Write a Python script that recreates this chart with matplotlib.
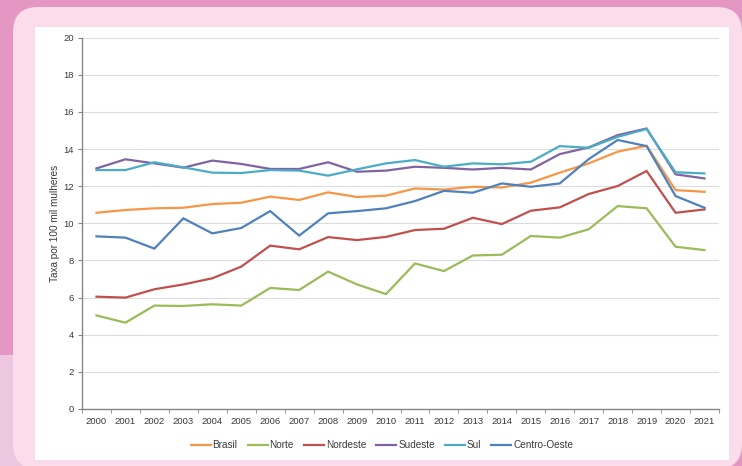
import matplotlib
matplotlib.use("Agg")
from matplotlib import pyplot as plt
from matplotlib.patches import Rectangle, FancyBboxPatch

years = list(range(2000, 2022))

brasil = [10.57, 10.72, 10.81, 10.84, 11.04, 11.11, 11.44, 11.26, 11.67, 11.42, 11.49, 11.88,
          11.82, 11.97, 11.93, 12.19, 12.73, 13.23, 13.86, 14.18, 11.79, 11.70]
norte = [5.04, 4.65, 5.57, 5.55, 5.64, 5.57, 6.52, 6.41, 7.40, 6.71, 6.19, 7.84,
         7.43, 8.27, 8.31, 9.32, 9.23, 9.68, 10.93, 10.81, 8.74, 8.56]
nordeste = [6.05, 6.00, 6.45, 6.71, 7.04, 7.67, 8.80, 8.60, 9.26, 9.10, 9.27, 9.64,
            9.71, 10.30, 9.96, 10.68, 10.86, 11.58, 12.01, 12.82, 10.57, 10.75]
sudeste = [12.96, 13.45, 13.23, 13.00, 13.38, 13.20, 12.93, 12.93, 13.29, 12.78, 12.84, 13.05,
           12.99, 12.90, 12.99, 12.90, 13.73, 14.09, 14.75, 15.11, 12.64, 12.42]
sul = [12.87, 12.87, 13.29, 13.02, 12.73, 12.71, 12.87, 12.84, 12.57, 12.91, 13.23, 13.41,
       13.05, 13.23, 13.18, 13.32, 14.16, 14.07, 14.66, 15.08, 12.75, 12.69]
centro_oeste = [9.30, 9.23, 8.64, 10.27, 9.46, 9.75, 10.66, 9.34, 10.54, 10.66, 10.81, 11.20,
                11.75, 11.65, 12.15, 11.97, 12.15, 13.46, 14.49, 14.16, 11.47, 10.84]

series = [("Brasil", brasil, "#F79646"),
          ("Norte", norte, "#9BBB59"),
          ("Nordeste", nordeste, "#C0504D"),
          ("Sudeste", sudeste, "#8064A2"),
          ("Sul", sul, "#4BACC6"),
          ("Centro-Oeste", centro_oeste, "#4F81BD")]

plt.rcParams['font.family'] = ['Liberation Sans', 'DejaVu Sans']

W, H = 742, 466
fig = plt.figure(figsize=(W / 100, H / 100), dpi=100)
fig.patch.set_facecolor("#E497C3")

def px(x, y, w, h):
  # pixel box (top-left origin) -> figure fraction
  return x / W, 1 - (y + h) / H, w / W, h / H

# background decoration
x0, y0, w0, h0 = px(0, 355, 40, 111)
fig.patches.append(Rectangle((x0, y0), w0, h0, transform=fig.transFigure,
                             facecolor="#EDC6E0", edgecolor="none", zorder=0))
x0, y0, w0, h0 = px(13, 7, 729, 462)
fig.patches.append(FancyBboxPatch((x0, y0), w0, h0, boxstyle="round,pad=0,rounding_size=0.034",
                                  transform=fig.transFigure, facecolor="#FBDCEA",
                                  edgecolor="none", zorder=0.5, mutation_aspect=W / H))
x0, y0, w0, h0 = px(35, 27, 694, 433)
fig.patches.append(Rectangle((x0, y0), w0, h0, transform=fig.transFigure,
                             facecolor="white", edgecolor="none", zorder=0.8))

ax = fig.add_axes(px(82, 37.7, 637, 371.3))
ax.set_zorder(3)
ax.set_facecolor("none")

for name, vals, color in series:
  ax.plot(years, vals, color=color, linewidth=1.6, label=name, solid_joinstyle="miter")

txt = "#3A3A3A"
ax.set_xlim(1999.5, 2021.5)
ax.set_ylim(0, 20)
ax.set_yticks(range(0, 21, 2))
ax.set_xticks(years)
ax.set_xticks([y - 0.5 for y in years] + [2021.5], minor=True)
ax.tick_params(axis="x", which="major", length=0, pad=6, labelsize=6.8, labelcolor=txt)
ax.tick_params(axis="x", which="minor", length=3, color="#868686", direction="out")
ax.tick_params(axis="y", length=3, color="#868686", pad=3, labelsize=6.8, labelcolor=txt)

ax.grid(axis="y", color="#DCDCDC", linewidth=0.8)
ax.set_axisbelow(True)
for s in ["top", "right"]:
  ax.spines[s].set_visible(False)
for s in ["left", "bottom"]:
  ax.spines[s].set_color("#868686")
  ax.spines[s].set_linewidth(1.0)

ax.set_ylabel("Taxa por 100 mil mulheres", fontsize=7.2, color=txt, labelpad=2)

leg = fig.legend(loc="center", bbox_to_anchor=(382 / W, 1 - 445 / H), ncol=6, frameon=False,
                 fontsize=7.2, labelcolor=txt, handlelength=2.0, handletextpad=0.2,
                 columnspacing=1.0)
leg.set_zorder(4)

fig.savefig("out.png", dpi=100, facecolor=fig.get_facecolor())
